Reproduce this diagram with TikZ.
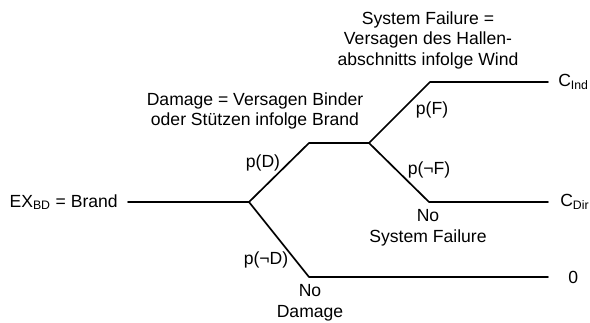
\documentclass[tikz,border=0pt]{standalone}
\usepackage{fontspec}
\setmainfont{Liberation Sans}

\begin{document}
\begin{tikzpicture}[line cap=round,line join=round,
  ast/.style={line width=1.2pt},
  txt/.style={inner sep=0pt,align=center,font=\fontsize{12.5}{14.6}\selectfont}]
  \useasboundingbox (0,0) rectangle (14.75,-8.05);
  % Knoten des Baums
  \coordinate (r0) at (3.20,-5.05);
  \coordinate (b1) at (6.225,-5.05);
  \coordinate (dd) at (7.725,-3.575);
  \coordinate (b2) at (9.225,-3.575);
  \coordinate (ff) at (10.75,-2.05);
  \coordinate (fe) at (13.70,-2.05);
  \coordinate (nf) at (10.725,-5.05);
  \coordinate (ne) at (13.70,-5.05);
  \coordinate (nd) at (7.725,-6.925);
  \coordinate (ndE) at (13.70,-6.925);
  % Äste
  \draw[ast] (r0) -- (b1) -- (dd) -- (b2) -- (ff) -- (fe);
  \draw[ast] (b2) -- (nf) -- (ne);
  \draw[ast] (b1) -- (nd) -- (ndE);
  % Beschriftung
  \node[txt,anchor=east] (ex) at (2.95,-5.05) {EX\textsubscript{BD} = Brand};
  \node[txt,anchor=west] (cind) at (13.95,-2.05) {C\textsubscript{Ind}};
  \node[txt,anchor=west] (cdir) at (14.0,-5.05) {C\textsubscript{Dir}};
  \node[txt,anchor=west] (zero) at (14.2,-6.925) {0};
  \node[txt] (dmg) at (6.375,-2.775) {Damage = Versagen Binder\\oder Stützen infolge Brand};
  \node[txt] (sys) at (10.7,-1.0) {System Failure =\\Versagen des Hallen-\\abschnitts infolge Wind};
  \node[txt] (pd) at (6.575,-4.075) {p(D)};
  \node[txt] (pf) at (10.8,-2.75) {p(F)};
  \node[txt] (pnf) at (10.725,-4.25) {p(¬F)};
  \node[txt] (nosys) at (10.7,-5.7) {No\\System Failure};
  \node[txt] (pnd) at (6.65,-6.5) {p(¬D)};
  \node[txt] (nodmg) at (7.75,-7.575) {No\\Damage};
\end{tikzpicture}
\end{document}
